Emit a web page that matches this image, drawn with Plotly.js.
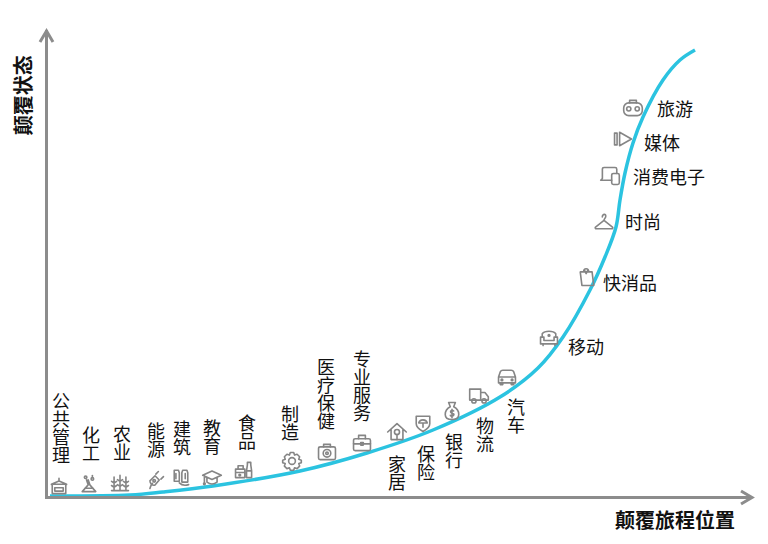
<!DOCTYPE html>
<html>
<head>
<meta charset="utf-8">
<script src="https://cdn.plot.ly/plotly-3.0.1.min.js"></script>
<style>html,body{margin:0;padding:0;background:#fff}</style>
</head>
<body>
<div id="plot" style="width:768px;height:544px"></div>
<script>
// curve
const curveX = [3, 83, 116, 166, 253, 320, 386, 453, 491, 516, 543, 558, 569, 573, 578, 586, 596, 616, 633, 648];
const curveY = [1, 2, 5, 11, 26, 44, 67, 100, 129, 160, 207, 240, 270, 297, 324, 354, 380, 417, 437, 447];

// stacked labels (one character per row), y is the top of the stack
const stackNames = ['公共管理', '化工', '农业', '能源', '建筑', '教育', '食品', '制造', '医疗保健', '专业服务', '家居', '保险', '银行', '物流', '汽车'];
const stackX = [14, 44, 75, 109, 135, 165, 200, 243, 279, 315, 350, 379, 407, 438, 469];
const stackTopY = [103, 69, 70, 73, 75, 76, 81, 90, 137, 145, 40, 50, 62, 78, 97];

// labels on the steep part
const flatNames = ['移动', '快消品', '时尚', '消费电子', '媒体', '旅游'];
const flatX = [539, 583, 596, 622, 615, 628];
const flatY = [148, 212, 273, 318, 352, 386];

// icons
const iconNames = ['gov', 'flask', 'farm', 'plug', 'vest', 'cap', 'food', 'gear', 'medkit', 'case', 'house', 'shield', 'money', 'truck', 'car', 'sofa', 'bag', 'hanger', 'devices', 'play', 'luggage'];
const iconX = [12, 42, 73, 108, 134, 165, 197, 245, 280, 315, 350, 376, 405, 432, 460, 502, 540, 557, 563, 576, 586];
const iconY = [11, 13, 14, 17, 20, 20, 27, 36, 45, 54, 65, 74, 86, 102, 120, 159, 220, 275, 321, 358, 389];

const iconArt = {
  gov: '<path d="M12 3v3M3 10l9-4 9 4M4 10h16v11H4zM7 14h10v4H7z"/>',
  flask: '<path d="M9 7l2 6-7 8h16l-7-8-2-6M7 17h10"/><circle cx="8" cy="4" r="1.5"/><circle cx="16" cy="6" r="1.5"/><path d="M16 2v1"/>',
  farm: '<path d="M5 5v16M12 3v18M19 5v16M2 10l3 2 3-2M9 8l3 2 3-2M16 10l3 2 3-2M2 15l3 2 3-2M9 14l3 2 3-2M16 15l3 2 3-2M2 21h20"/>',
  plug: '<path d="M6 22c1-3 1-4 3-6"/><path d="M6 13l6-6 5 5-5 6c-3 1-6-2-6-5zM13 5l3-3M19 11l3-3"/><circle cx="11" cy="13" r="1.5"/>',
  vest: '<path d="M4 4h5l1 3v10H4zM14 4h5l1 3v11H13V7zM6 8v6M17 8v6M10 19c3 3 8 3 11 2"/>',
  cap: '<path d="M1 10l11-5 11 5-11 5zM6 13v5c4 3 8 3 12 0v-5M3 11v7"/><circle cx="3" cy="20" r="1"/>',
  food: '<path d="M2 11h11v10H2zM2 15h11M5 7h6v4H5zM15 13h6v8h-6zM16 3h4v3l1 7h-6l1-7z"/><circle cx="7" cy="18" r="1"/>',
  gear: '<circle cx="12" cy="12" r="4"/><path d="M10 2h4l1 3 3-1 3 3-1 3 3 1v3l-3 1 1 3-3 3-3-1-1 3h-4l-1-3-3 1-3-3 1-3-3-1v-3l3-1-1-3 3-3 3 1z"/>',
  medkit: '<rect x="2" y="6" width="20" height="15" rx="2"/><path d="M8 6V3h8v3"/><circle cx="12" cy="13.5" r="4.5"/><circle cx="12" cy="13.5" r="1.5"/>',
  case: '<rect x="2" y="7" width="20" height="14" rx="2"/><path d="M8 7V3h8v4M2 13h20"/><rect x="10.5" y="11.5" width="3" height="3"/>',
  house: '<path d="M1 12L12 2l11 10M5 9v12h14V9"/><circle cx="12" cy="12" r="3"/><path d="M12 15v6"/>',
  shield: '<path d="M4 4c5 0 11 0 16 0v9c0 4-4 7-8 9-4-2-8-5-8-9z"/><path d="M7 12c1-5 9-5 10 0zM12 12v5"/>',
  money: '<path d="M8 2h8l-2 5c4 2 6 6 6 9 0 4-3 6-8 6s-8-2-8-6c0-3 2-7 6-9z"/><path d="M14 12c-2-2-5 0-3 2s4 1 3 3-4 1-4 0M12 10v10"/>',
  truck: '<path d="M1 5h13v13H1zM14 9h5l4 5v4h-9z"/><circle cx="6" cy="19" r="2.5"/><circle cx="18" cy="19" r="2.5"/>',
  car: '<path d="M2 12l2-6c.5-1 1-2 3-2h10c2 0 2.500 1 3 2l2 6v7H2zM2 12h20M4 19v2h3v-2M17 19v2h3v-2"/><circle cx="6" cy="15.500" r="1"/><circle cx="18" cy="15.500" r="1"/>',
  sofa: '<path d="M4 11V7c3-4 13-4 16 0v4M2 11h4v4h12v-4h4v8H2zM5 19v2M19 19v2"/><circle cx="12" cy="9" r="1"/>',
  bag: '<path d="M4 6h14l2 16H6zM8 6c0-5 6-5 6 0M9 4l2 4 2-4"/>',
  hanger: '<path d="M10 6c0-4 5-4 4 0-.5 2-2 2-2 4L2 18c-1 1 0 2 1 2h18c1 0 2-1 1-2l-10-8"/>',
  devices: '<path d="M14 17H1l2-2V4c0-1 1-2 2-2h13c1 0 2 1 2 2v5"/><rect x="14" y="9" width="9" height="13" rx="2"/>',
  play: '<path d="M2 5h3v14H2zM8 4v16l14-8z"/>',
  luggage: '<rect x="1" y="6" width="22" height="15" rx="6"/><path d="M8 6V3h8v3"/><circle cx="7" cy="13" r="2.500"/><circle cx="17" cy="13" r="2.500"/>'
};

function iconUrl(name) {
  const svg = '<svg xmlns="http://www.w3.org/2000/svg" viewBox="-1 -1 26 26" fill="none" stroke="#858585" stroke-width="1.9" stroke-linejoin="round" stroke-linecap="round">' + iconArt[name] + '</svg>';
  return 'data:image/svg+xml;utf8,' + encodeURIComponent(svg);
}

const textFont = {family: '"Noto Sans CJK SC", sans-serif', size: 18, color: '#111'};
const titleFont = {family: '"Noto Sans CJK SC", sans-serif', size: 20, color: '#111', weight: 700};

const curve = {
  x: curveX,
  y: curveY,
  mode: 'lines',
  type: 'scatter',
  line: {color: 'rgb(43, 195, 224)', width: 3.5, shape: 'spline', smoothing: 1},
  hoverinfo: 'skip',
};

const stacks = {
  x: stackX,
  y: stackTopY,
  text: stackNames.map(function (name) { return Array.from(name).join('<br>'); }),
  mode: 'text',
  type: 'scatter',
  textposition: 'bottom center',
  textfont: textFont,
  hoverinfo: 'skip',
};

const flats = {
  x: flatX,
  y: flatY,
  text: flatNames,
  mode: 'text',
  type: 'scatter',
  textposition: 'middle center',
  textfont: textFont,
  hoverinfo: 'skip',
};

const layout = {
  width: 768,
  height: 544,
  showlegend: false,
  paper_bgcolor: '#fff',
  plot_bgcolor: '#fff',
  margin: {l: 48, r: 16, t: 30, b: 48, pad: 0},
  xaxis: {range: [1, 705], showgrid: false, zeroline: false, showticklabels: false, ticks: '', showline: true, linecolor: '#8c8c8c', linewidth: 3},
  yaxis: {range: [1, 467], showgrid: false, zeroline: false, showticklabels: false, ticks: '', showline: true, linecolor: '#8c8c8c', linewidth: 3},
  shapes: [
    // arrow heads of the two axes
    {type: 'path', xref: 'paper', yref: 'paper', path: 'M -0.0114 0.9742 L -0.0021 0.9979 L 0.0071 0.9742', line: {color: '#8c8c8c', width: 3}},
    {type: 'path', xref: 'paper', yref: 'paper', path: 'M 0.9844 0.0107 L 1 -0.0032 L 0.9844 -0.0172', line: {color: '#8c8c8c', width: 3}},
  ],
  images: iconNames.map(function (name, i) {
    return {source: iconUrl(name), xref: 'x', yref: 'y', x: iconX[i], y: iconY[i], sizex: 22, sizey: 22, xanchor: 'center', yanchor: 'middle', layer: 'above'};
  }),
  annotations: [
    {text: '颠覆状态', xref: 'paper', yref: 'y', x: -0.0365, y: 402, xanchor: 'center', yanchor: 'middle', textangle: -90, showarrow: false, font: titleFont},
    {text: '颠覆旅程位置', xref: 'x', yref: 'paper', x: 628, y: -0.05, xanchor: 'center', yanchor: 'middle', showarrow: false, font: titleFont},
  ],
};

const config = {displayModeBar: false, staticPlot: true};

Plotly.newPlot('plot', [curve, stacks, flats], layout, config).then(function () {
  // plotly spaces <br> lines 1.3em apart, the stacked labels sit 1em apart
  document.querySelectorAll('#plot .textpoint tspan.line').forEach(function (t) {
    t.setAttribute('dy', (parseFloat(t.getAttribute('dy')) / 1.3) + 'em');
  });
});
</script>
</body>
</html>
